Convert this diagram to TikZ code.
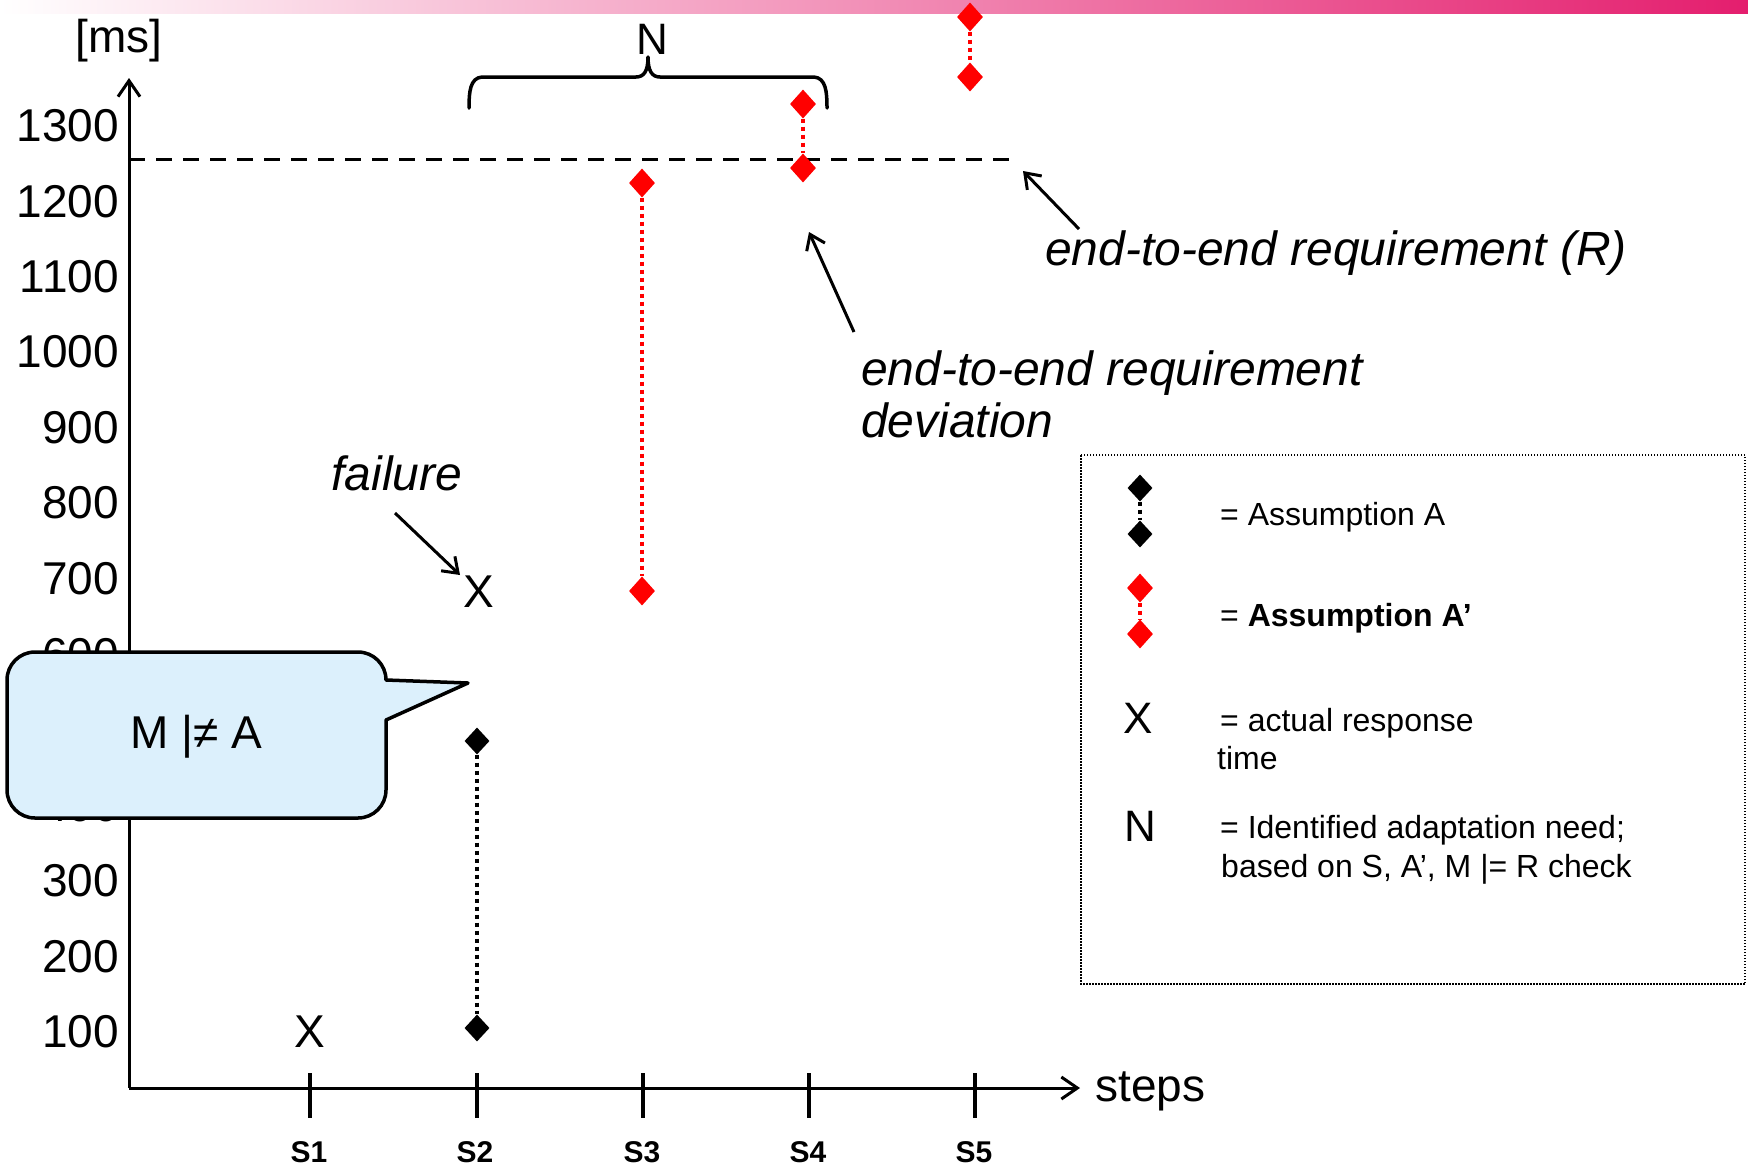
\documentclass[tikz,border=0pt]{standalone}
\usepackage{fontspec}
\setmainfont{Liberation Sans}
\usetikzlibrary{arrows.meta,shapes.geometric}
\definecolor{calloutblue}{RGB}{220,240,252}
\definecolor{barpink}{RGB}{228,30,110}
\definecolor{barmid}{RGB}{242,185,198}
\begin{document}
\begin{tikzpicture}[x=1pt,y=-1pt,
  axisline/.style={line width=3pt,-{Straight Barb[length=16pt,width=22pt]}},
  pointer/.style={line width=3pt,-{Straight Barb[length=14pt,width=20pt]}},
  tickline/.style={line width=3.5pt},
  ylbl/.style={font=\fontsize{46}{52}\selectfont,anchor=east,inner sep=0pt},
  slbl/.style={font=\bfseries\fontsize{30}{34}\selectfont,inner sep=0pt},
  big/.style={font=\fontsize{46}{52}\selectfont,inner sep=0pt},
  ann/.style={font=\itshape\fontsize{48}{54}\selectfont,inner sep=0pt,anchor=base west},
  legtxt/.style={font=\fontsize{32}{39}\selectfont,inner sep=0pt,anchor=base west},
  xsym/.style={font=\fontsize{46}{52}\selectfont,inner sep=0pt},
  legsym/.style={font=\fontsize{44}{50}\selectfont,inner sep=0pt},
  rdia/.style={diamond,fill=red,minimum width=26pt,minimum height=29pt,inner sep=0pt},
  bdia/.style={diamond,fill=black,minimum width=25pt,minimum height=27pt,inner sep=0pt},
  rdot/.style={draw=red,line width=4pt,dash pattern=on 4pt off 4pt},
  bdot/.style={draw=black,line width=4pt,dash pattern=on 4pt off 4pt},
  reqline/.style={line width=3pt,dash pattern=on 16pt off 11pt},
  callout/.style={fill=calloutblue,draw=black,line width=3.5pt,line join=round},
  legbox/.style={draw=black,line width=1.5pt,dash pattern=on 1.5pt off 1.5pt}
]
\useasboundingbox (0,0) rectangle (1748,1168);
\fill[white] (0,0) rectangle (1748,1168);
% top bar
\shade[left color=white,middle color=barmid,right color=barpink] (0,0) rectangle (1748,13);

% axes
\coordinate (origin) at (129,1088);
\coordinate (ytop) at (129,78);
\coordinate (xend) at (1080,1088);
\draw[axisline] (origin) -- (ytop);
\draw[axisline] (origin) -- (xend);
\node[big] (ms) at (119,41) {[ms]};
\node[big,anchor=base west] (steps) at (1095,1101) {steps};

% y labels
\foreach \v/\yy in {1300/126,1200/202,1100/277,1000/352,900/428,800/503,700/579,600/655,500/730,400/806,300/881,200/957,100/1032}
  \node[ylbl] (y\v) at (119,\yy) {\v};

% ticks and step labels
\foreach \i/\xx/\lx in {1/310/309,2/477/475,3/643/642,4/809/808,5/975/974}{
  \draw[tickline] (\xx,1073) -- (\xx,1118);
  \node[slbl] (s\i) at (\lx,1152) {S\i};
}

% requirement line
\coordinate (reqA) at (129,159);
\coordinate (reqB) at (1014,159);
\draw[reqline] (reqA) -- (reqB);

% data points
\node[xsym] (x1) at (310,1032) {X};
\node[xsym] (x2) at (479,592) {X};
\node[bdia] (a2t) at (477,741) {};
\node[bdia] (a2b) at (477,1028) {};
\draw[bdot] (a2t) -- (a2b);
\node[rdia] (a3t) at (642,183) {};
\node[rdia] (a3b) at (642,591) {};
\draw[rdot] (a3t) -- (a3b);
\node[rdia] (a4t) at (803,104) {};
\node[rdia] (a4b) at (803,168) {};
\draw[rdot] (a4t) -- (a4b);
\node[rdia] (a5t) at (970,17) {};
\node[rdia] (a5b) at (970,77) {};
\draw[rdot] (a5t) -- (a5b);

% brace and N
\draw[line width=3.5pt,line join=round,line cap=round]
  (469,108) .. controls (469,92) and (470,78) .. (482,77) -- (636,77)
  .. controls (644,77) and (648,71) .. (648,57)
  .. controls (648,71) and (652,77) .. (660,77) -- (814,77)
  .. controls (826,78) and (827,92) .. (827,108);
\node[legsym] (nbrace) at (652,39) {N};

% annotations
\node[ann,anchor=base] (failure) at (397,490) {failure};
\coordinate (failFrom) at (395,513);
\coordinate (failTo) at (460,575);
\draw[pointer] (failFrom) -- (failTo);

\node[ann] (reqtxt) at (1045,265) {end-to-end requirement (R)};
\coordinate (reqFrom) at (1079,229);
\coordinate (reqTo) at (1023,171);
\draw[pointer] (reqFrom) -- (reqTo);

\node[ann] (devtxt1) at (861,385) {end-to-end requirement};
\node[ann] (devtxt2) at (861,437) {deviation};
\coordinate (devFrom) at (854,332);
\coordinate (devTo) at (809,232);
\draw[pointer] (devFrom) -- (devTo);

% callout
\draw[callout] (7,680) arc[start angle=180,end angle=270,radius=28]
  -- (358,652) arc[start angle=270,end angle=360,radius=28]
  -- (468,683) -- (386,720) -- (386,790)
  arc[start angle=0,end angle=90,radius=28]
  -- (35,818) arc[start angle=90,end angle=180,radius=28] -- cycle;
\node[big] (mna) at (196,737) {M |≠ A};

% legend
\draw[legbox] (1081,455) rectangle (1745,984);
\node[bdia] (la1) at (1140,488) {};
\node[bdia] (la2) at (1140,534) {};
\draw[bdot] (la1) -- (la2);
\node[legtxt] (lta) at (1220,525) {= Assumption A};
\node[rdia] (lr1) at (1140,588) {};
\node[rdia] (lr2) at (1140,634) {};
\draw[rdot] (lr1) -- (lr2);
\node[legtxt] (ltr) at (1220,626) {= \textbf{Assumption A’}};
\node[legsym] (lx) at (1138,718) {X};
\node[legtxt] (ltx1) at (1220,731) {= actual response};
\node[legtxt] (ltx2) at (1217,769) {time};
\node[legsym] (ln) at (1140,826) {N};
\node[legtxt] (ltn1) at (1220,838) {= Identified adaptation need;};
\node[legtxt] (ltn2) at (1221,877) {based on S, A’, M |= R check};
\end{tikzpicture}
\end{document}
